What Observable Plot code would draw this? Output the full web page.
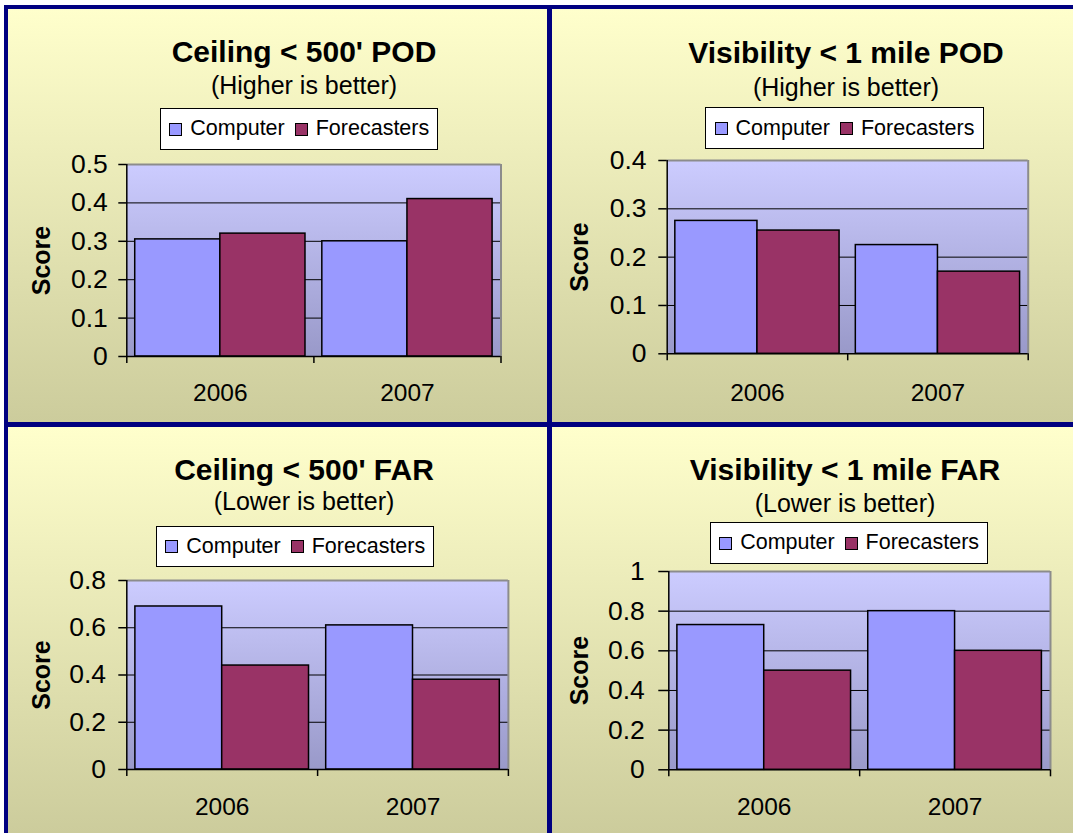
<!DOCTYPE html>
<html>
<head>
<meta charset="utf-8">
<script src="https://cdn.jsdelivr.net/npm/d3@7"></script>
<script src="https://cdn.jsdelivr.net/npm/@observablehq/plot@0.6"></script>
<style>
  html, body { margin: 0; padding: 0; background: #fff; }
  #page { position: relative; width: 1073px; height: 833px; overflow: hidden; background: #fff;
          font-family: "Liberation Sans", Arial, sans-serif; color: #000; }
  .navy { position: absolute; background: #000080; }
  .panel { position: absolute; background: linear-gradient(#ffffcc, #cccc9c); }
  .title { position: absolute; text-align: center; white-space: nowrap; line-height: 1; }
  .legend { position: absolute; box-sizing: border-box; background: #fff; border: 1px solid #000;
            display: flex; align-items: center; justify-content: center; font-size: 21.5px; line-height: 1; white-space: nowrap; }
  .sw { display: inline-block; width: 11px; height: 11px; border: 1.5px solid #000; margin-right: 8px; }
  .chart { position: absolute; }
</style>
</head>
<body>
<div id="page"></div>
<script>
// ---- data ----
const years = [2006, 2007];
const series = ["Computer", "Forecasters"];
const seriesColors = ["#9999ff", "#993366"];

const chartTitles = ["Ceiling < 500' POD", "Visibility < 1 mile POD", "Ceiling < 500' FAR", "Visibility < 1 mile FAR"];
const chartSubtitles = ["(Higher is better)", "(Higher is better)", "(Lower is better)", "(Lower is better)"];
const yAxisTitle = "Score";

const ceilingPodComputer = [0.305, 0.30];
const ceilingPodForecasters = [0.32, 0.41];
const visibilityPodComputer = [0.275, 0.225];
const visibilityPodForecasters = [0.255, 0.17];
const ceilingFarComputer = [0.69, 0.61];
const ceilingFarForecasters = [0.44, 0.38];
const visibilityFarComputer = [0.73, 0.80];
const visibilityFarForecasters = [0.50, 0.60];

const ceilingPodTicks = [0, 0.1, 0.2, 0.3, 0.4, 0.5];
const visibilityPodTicks = [0, 0.1, 0.2, 0.3, 0.4];
const ceilingFarTicks = [0, 0.2, 0.4, 0.6, 0.8];
const visibilityFarTicks = [0, 0.2, 0.4, 0.6, 0.8, 1];

const computerValues = [ceilingPodComputer, visibilityPodComputer, ceilingFarComputer, visibilityFarComputer];
const forecasterValues = [ceilingPodForecasters, visibilityPodForecasters, ceilingFarForecasters, visibilityFarForecasters];
const tickSets = [ceilingPodTicks, visibilityPodTicks, ceilingFarTicks, visibilityFarTicks];

// ---- layout (page pixels) ----
const layout = [
  {panel: {x: 8, y: 9, w: 539, h: 413}, titleCx: 304, titleBase: 62, subBase: 94,
   legend: {l: 160.3, t: 108.3, w: 278, h: 41.7}, frame: {l: 126.3, r: 500.5, t: 164, b: 356},
   yTickSize: 8, yTickPad: 11, xLabPad: 27.5, scoreDx: -85.3},
  {panel: {x: 552, y: 9, w: 521, h: 413}, titleCx: 846, titleBase: 63.3, subBase: 96,
   legend: {l: 705, t: 107.3, w: 279, h: 42}, frame: {l: 666.7, r: 1027.7, t: 160, b: 353.3},
   yTickSize: 8.4, yTickPad: 12.3, xLabPad: 29.4, scoreDx: -87.4},
  {panel: {x: 8, y: 427, w: 539, h: 406}, titleCx: 304, titleBase: 480, subBase: 510,
   legend: {l: 156.4, t: 526, w: 277.8, h: 41}, frame: {l: 126.3, r: 507.9, t: 580, b: 769},
   yTickSize: 8, yTickPad: 12.7, xLabPad: 27.7, scoreDx: -85},
  {panel: {x: 552, y: 427, w: 521, h: 406}, titleCx: 845, titleBase: 480, subBase: 511.7,
   legend: {l: 710.3, t: 522.3, w: 277.7, h: 41.7}, frame: {l: 668.3, r: 1050, t: 570.7, b: 769},
   yTickSize: 10, yTickPad: 14, xLabPad: 27.7, scoreDx: -89}
];

const FONT = '"Liberation Sans", Arial, sans-serif';
const titleSize = 30, subSize = 25, yTickFont = 26.5, xTickFont = 24.5, scoreFont = 25;
const barFrac = 0.455;   // bar width as a fraction of a category band
const page = document.getElementById("page");

// navy frame behind panels
const navy = document.createElement("div");
navy.className = "navy";
Object.assign(navy.style, {left: "4px", top: "5px", width: "1069px", height: "828px"});
page.appendChild(navy);

function addDiv(cls, styles, text) {
  const d = document.createElement("div");
  d.className = cls;
  Object.assign(d.style, styles);
  if (text != null) d.textContent = text;
  page.appendChild(d);
  return d;
}

layout.forEach((cfg, i) => {
  const p = cfg.panel;
  addDiv("panel", {left: p.x + "px", top: p.y + "px", width: p.w + "px", height: p.h + "px"});

  // title & subtitle
  addDiv("title", {left: (cfg.titleCx - 260) + "px", width: "520px", top: (cfg.titleBase - 0.8465 * titleSize) + "px",
    fontSize: titleSize + "px", fontWeight: "bold"}, chartTitles[i]);
  addDiv("title", {left: (cfg.titleCx - 260) + "px", width: "520px", top: (cfg.subBase - 0.8465 * subSize) + "px",
    fontSize: subSize + "px"}, chartSubtitles[i]);

  // chart
  const f = cfg.frame;
  const mt = 20, mb = 60;
  const ml = f.l - p.x, mr = (p.x + p.w) - f.r;
  const height = mt + (f.b - f.t) + mb;
  const ticks = tickSets[i];
  const ymax = ticks[ticks.length - 1];
  const xmin = years[0] - 0.5, xmax = years[years.length - 1] + 0.5;
  const bounds = [xmin, ...years.map(y => y + 0.5)];
  const data = [
    ...years.map((yr, k) => ({year: yr, series: series[0], value: computerValues[i][k]})),
    ...years.map((yr, k) => ({year: yr, series: series[1], value: forecasterValues[i][k]}))
  ];
  const gid = "plotgrad" + i;
  const defsMark = () => {
    const ns = "http://www.w3.org/2000/svg";
    const defs = document.createElementNS(ns, "defs");
    const lg = document.createElementNS(ns, "linearGradient");
    lg.setAttribute("id", gid);
    lg.setAttribute("x1", "0"); lg.setAttribute("y1", "0");
    lg.setAttribute("x2", "0"); lg.setAttribute("y2", "1");
    [["0%", "#ccccff"], ["100%", "#9999c9"]].forEach(([o, c]) => {
      const s = document.createElementNS(ns, "stop");
      s.setAttribute("offset", o); s.setAttribute("stop-color", c);
      lg.appendChild(s);
    });
    defs.appendChild(lg);
    return defs;
  };

  const chart = Plot.plot({
    width: p.w,
    height,
    marginTop: mt, marginBottom: mb, marginLeft: ml, marginRight: mr,
    style: {background: "transparent", overflow: "visible", fontFamily: FONT, fontSize: xTickFont + "px", color: "#000"},
    x: {domain: [xmin, xmax], axis: null},
    y: {domain: [0, ymax], axis: null, label: null},
    color: {domain: series, range: seriesColors},
    marks: [
      defsMark,
      Plot.frame({fill: `url(#${gid})`, stroke: null}),
      Plot.gridY(ticks.slice(1, -1), {stroke: "#000", strokeOpacity: 1, strokeWidth: 1}),
      Plot.rectY(data, {
        x1: d => d.series === series[0] ? d.year - barFrac : d.year,
        x2: d => d.series === series[0] ? d.year : d.year + barFrac,
        y: "value", fill: "series", stroke: "#000", strokeWidth: 1.5
      }),
      Plot.ruleY([ymax], {stroke: "#8c8c8c", strokeWidth: 2}),
      Plot.ruleX([xmax], {stroke: "#8c8c8c", strokeWidth: 2}),
      Plot.ruleY([0], {stroke: "#000", strokeWidth: 1.5}),
      Plot.ruleX([xmin], {stroke: "#000", strokeWidth: 1.5}),
      Plot.axisY(ticks, {tickSize: cfg.yTickSize, tickPadding: cfg.yTickPad, tickFormat: d => String(d),
        fontSize: yTickFont, label: null, stroke: "#000", strokeWidth: 1.5}),
      Plot.axisX(bounds, {tickSize: 7, tickFormat: () => "", label: null, stroke: "#000", strokeWidth: 1.5}),
      Plot.axisX(years, {tickSize: 0, tickPadding: cfg.xLabPad, tickFormat: d => String(d), fontSize: xTickFont, label: null}),
      Plot.text([yAxisTitle], {frameAnchor: "left", textAnchor: "middle", rotate: -90, dx: cfg.scoreDx, fontWeight: "bold",
        fontSize: scoreFont, fill: "#000"})
    ]
  });
  const wrap = document.createElement("div");
  wrap.className = "chart";
  Object.assign(wrap.style, {left: p.x + "px", top: (f.t - mt) + "px"});
  wrap.appendChild(chart);
  page.appendChild(wrap);

  // legend
  const lg = cfg.legend;
  const leg = addDiv("legend", {left: lg.l + "px", top: lg.t + "px", width: lg.w + "px", height: lg.h + "px"});
  series.forEach((s, k) => {
    const sw = document.createElement("span");
    sw.className = "sw";
    sw.style.background = seriesColors[k];
    leg.appendChild(sw);
    const t = document.createElement("span");
    t.textContent = s;
    if (k < series.length - 1) t.style.marginRight = "10px";
    leg.appendChild(t);
  });
});
</script>
</body>
</html>
